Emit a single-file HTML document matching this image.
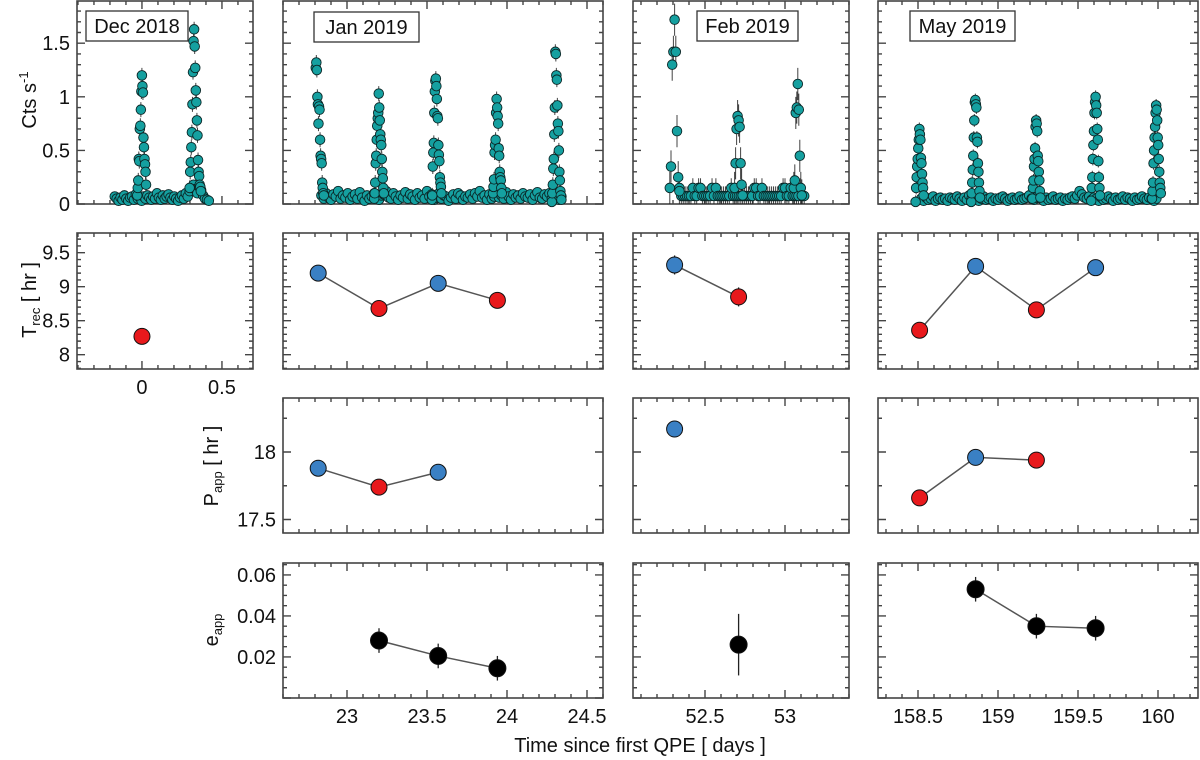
<!DOCTYPE html>
<html><head><meta charset="utf-8"><style>
html,body{margin:0;padding:0;background:#fff}
svg{display:block;font-family:"Liberation Sans",sans-serif}
</style></head><body>
<svg id="chart" width="1200" height="760" viewBox="0 0 1200 760" xmlns="http://www.w3.org/2000/svg"></svg>
<script>
// ---------- data ----------
const decBaseStart=-0.17, decBaseStep=0.012;
const decBase=[0.07,0.05,0.03,0.06,0.04,0.08,0.05,0.03,0.06,0.07,0.04,0.09,0.05,0.06,0.03,0.07,0.05,0.08,0.06,0.04,0.07,0.05,0.1,0.06,0.04,0.08,0.05,0.07,0.09,0.06,0.04,0.07,0.05,0.03,0.06,0.08,0.05,0.1,0.07,0.12,0.15,0.18,0.14,0.1,0.16,0.13,0.08,0.05,0.04,0.03];
const decFlareT=[-0.002,0.333];
const decFlareW=[0.055,0.07];
const decFlare1=[0.08,0.15,0.22,0.42,0.4,0.7,0.73,0.88,1.05,1.2,1.1,1.04,0.62,0.53,0.42,0.37,0.3,0.18];
const decFlare2=[0.15,0.3,0.39,0.53,0.67,0.93,1.23,1.52,1.63,1.47,1.27,1.06,0.95,0.78,0.64,0.41,0.3,0.26,0.18,0.16,0.12];

const janBaseStart=22.84, janBaseStep=0.015;
const janBase=[0.08,0.05,0.1,0.06,0.04,0.09,0.07,0.12,0.05,0.08,0.06,0.1,0.04,0.07,0.09,0.05,0.11,0.06,0.03,0.08,0.05,0.07,0.1,0.06,0.04,0.08,0.09,0.12,0.06,0.05,0.1,0.07,0.04,0.08,0.06,0.11,0.05,0.09,0.07,0.04,0.1,0.06,0.08,0.05,0.12,0.07,0.09,0.04,0.06,0.1,0.05,0.08,0.07,0.03,0.06,0.09,0.05,0.1,0.08,0.04,0.07,0.06,0.09,0.05,0.1,0.07,0.12,0.06,0.08,0.04,0.09,0.05,0.07,0.1,0.06,0.08,0.05,0.11,0.07,0.04,0.09,0.06,0.08,0.05,0.1,0.07,0.06,0.09,0.04,0.08,0.11,0.06,0.05,0.09,0.07,0.1,0.05,0.08,0.06,0.04,0.07];
const janFlareT=[22.83,23.2,23.56,23.94,24.31];
const janFlareW=[0.05,0.06,0.06,0.055,0.06];
const janFlare1=[1.27,1.32,1.25,1.0,0.93,0.75,0.91,0.88,0.6,0.45,0.42,0.38,0.2,0.15,0.1,0.08];
const janFlare2=[0.05,0.1,0.2,0.38,0.45,0.6,0.73,0.8,0.85,1.03,0.9,0.78,0.65,0.6,0.55,0.42,0.3,0.24,0.15,0.1];
const janFlare3=[0.04,0.08,0.35,0.48,0.57,0.85,1.05,1.15,1.17,1.1,0.98,0.82,0.8,0.55,0.46,0.4,0.25,0.2,0.16,0.1];
const janFlare4=[0.1,0.16,0.23,0.48,0.55,0.6,0.85,0.98,0.9,0.82,0.75,0.52,0.45,0.3,0.25,0.22,0.15,0.1];
const janFlare5=[0.02,0.1,0.18,0.33,0.42,0.65,0.9,1.42,1.4,1.2,1.16,0.92,0.75,0.68,0.5,0.3,0.22,0.12,0.08,0.04];

const febBaseStart=52.34, febBaseStep=0.012;
const febBase=[0.15,0.075,0.075,0.075,0.075,0.075,0.075,0.15,0.075,0.075,0.15,0.15,0.075,0.075,0.075,0.075,0.075,0.15,0.075,0.15,0.075,0.075,0.075,0.075,0.075,0.075,0.075,0.15,0.075,0.075,0.075,0.075,0.075,0.075,0.075,0.075,0.075,0.075,0.075,0.15,0.15,0.075,0.075,0.15,0.075,0.075,0.075,0.075,0.075,0.075,0.075,0.075,0.075,0.075,0.15,0.15,0.075,0.075,0.15,0.075,0.075,0.075,0.075,0.15,0.075,0.075];
const febFlareT=[52.31,52.71,53.08];
const febFlareW=[0.06,0.05,0.05];
const febFlare1=[0.15,0.35,1.3,1.42,1.72,1.42,0.68,0.25,0.12];
const febFlare2=[0.15,0.38,0.7,0.82,0.78,0.72,0.38,0.18,0.08];
const febFlare3=[0.15,0.22,0.85,0.9,1.12,0.88,0.45,0.15,0.08];

const mayBaseStart=158.52, mayBaseStep=0.015;
const mayBase=[0.05,0.03,0.06,0.04,0.05,0.07,0.03,0.05,0.06,0.04,0.05,0.03,0.06,0.05,0.04,0.07,0.05,0.03,0.06,0.04,0.08,0.05,0.04,0.06,0.03,0.05,0.07,0.04,0.05,0.06,0.03,0.05,0.04,0.06,0.07,0.05,0.03,0.05,0.06,0.04,0.05,0.07,0.04,0.05,0.06,0.08,0.05,0.04,0.06,0.1,0.05,0.03,0.06,0.04,0.05,0.07,0.04,0.05,0.06,0.03,0.05,0.04,0.06,0.07,0.05,0.08,0.12,0.09,0.06,0.05,0.07,0.04,0.06,0.05,0.03,0.06,0.04,0.05,0.07,0.05,0.03,0.06,0.04,0.05,0.07,0.04,0.06,0.05,0.03,0.06,0.04,0.05,0.07,0.05,0.04,0.06,0.05,0.03,0.05];
const mayFlareT=[158.51,158.86,159.24,159.61,159.99];
const mayFlareW=[0.05,0.055,0.05,0.055,0.055];
const mayFlare1=[0.02,0.15,0.25,0.35,0.42,0.52,0.6,0.7,0.65,0.6,0.43,0.38,0.28,0.2,0.15,0.08];
const mayFlare2=[0.02,0.1,0.2,0.32,0.45,0.62,0.78,0.95,0.97,0.93,0.9,0.62,0.58,0.38,0.3,0.2,0.12,0.06];
const mayFlare3=[0.05,0.15,0.22,0.35,0.42,0.52,0.72,0.78,0.75,0.68,0.45,0.4,0.3,0.22,0.12,0.06];
const mayFlare4=[0.03,0.15,0.25,0.42,0.55,0.68,0.85,0.95,1.0,0.92,0.85,0.7,0.6,0.4,0.25,0.15,0.08];
const mayFlare5=[0.05,0.12,0.2,0.38,0.5,0.62,0.72,0.85,0.92,0.88,0.78,0.62,0.55,0.42,0.3,0.2,0.15,0.1];

// T_rec [hr]
const trecT=[[0],[22.82,23.2,23.57,23.94],[52.31,52.71],[158.51,158.86,159.24,159.61]];
const trecV=[[8.27],[9.2,8.68,9.05,8.8],[9.32,8.85],[8.36,9.3,8.66,9.28]];
const trecE=[[0.1],[0.1,0.1,0.1,0.1],[0.14,0.14],[0.1,0.1,0.1,0.1]];
const trecC=[["r"],["b","r","b","r"],["b","r"],["r","b","r","b"]];
// P_app [hr]
const pappT=[[22.82,23.2,23.57],[52.31],[158.51,158.86,159.24]];
const pappV=[[17.88,17.74,17.85],[18.17],[17.66,17.96,17.94]];
const pappE=[[0.04,0.04,0.04],[0.05],[0.04,0.04,0.04]];
const pappC=[["b","r","b"],["b"],["r","b","r"]];
// e_app
const eappT=[[23.2,23.57,23.94],[52.71],[158.86,159.24,159.61]];
const eappV=[[0.028,0.0205,0.0145],[0.026],[0.053,0.035,0.034]];
const eappE=[[0.006,0.006,0.006],[0.015],[0.006,0.006,0.006]];

const xTickLabels1=["0","0.5"];
const xTickLabels2=["23","23.5","24","24.5"];
const xTickLabels3=["52.5","53"];
const xTickLabels4=["158.5","159","159.5","160"];

// ---------- layout ----------
const svg=document.getElementById('chart');
const NS='http://www.w3.org/2000/svg';
function mk(tag,attrs,parent){const e=document.createElementNS(NS,tag);for(const k in attrs)e.setAttribute(k,attrs[k]);(parent||svg).appendChild(e);return e;}
const cols=[{x0:77,x1:253,d0:-0.406,d1:0.694},{x0:283,x1:603,d0:22.6,d1:24.6},{x0:633,x1:849,d0:52.05,d1:53.4},{x0:878,x1:1198,d0:158.25,d1:160.25}];
const rows=[{y0:1,y1:204,d0:0,d1:1.894,maj:0.5,min:0.1},{y0:233,y1:369,d0:7.79,d1:9.79,maj:0.5,min:0.1},{y0:398,y1:533,d0:17.40,d1:18.40,maj:0.5,min:0.25},{y0:563,y1:698,d0:0,d1:0.0658,maj:0.02,min:0.005}];
const COL={r:"#e8191c",b:"#3a80c4",teal:"#15a0a0"};
function sx(c,v){return c.x0+(v-c.d0)/(c.d1-c.d0)*(c.x1-c.x0);}
function sy(r,v){return r.y1-(v-r.d0)/(r.d1-r.d0)*(r.y1-r.y0);}

function panel(ci,ri,name){
  const c=cols[ci],r=rows[ri];
  const g=mk('g',{});
  
  
  mk('rect',{x:c.x0,y:r.y0,width:c.x1-c.x0,height:r.y1-r.y0,fill:'none',stroke:'#444','stroke-width':1.6},g);
  let p='';
  const s0=Math.ceil(c.d0/0.1-1e-6),s1=Math.floor(c.d1/0.1+1e-6);
  for(let i=s0;i<=s1;i++){const x=sx(c,i*0.1);const L=(i%5===0)?8:4;p+=`M${x},${r.y1}v${-L}M${x},${r.y0}v${L}`;}
  const t0=Math.ceil(r.d0/r.min-1e-6),t1=Math.floor(r.d1/r.min+1e-6);
  const ratio=Math.round(r.maj/r.min);
  for(let i=t0;i<=t1;i++){const y=sy(r,i*r.min);const L=(i%ratio===0)?8:4;p+=`M${c.x0},${y}h${L}M${c.x1},${y}h${-L}`;}
  mk('path',{d:p,stroke:'#444','stroke-width':1.4,fill:'none'},g);
  return g;
}
function ylabels(ci,ri,vals){const c=cols[ci],r=rows[ri];
  vals.forEach(v=>{const t=mk('text',{x:c.x0-7,y:sy(r,v)+7,'text-anchor':'end','font-size':20,fill:'#111'});t.textContent=(ri===3?v.toFixed(2):String(v));
    });}
function xlabels(ci,ri,labels){const c=cols[ci],r=rows[ri];
  labels.forEach(l=>{const t=mk('text',{x:sx(c,parseFloat(l)),y:r.y1+25,'text-anchor':'middle','font-size':20,fill:'#111'});t.textContent=l;
    });}
function legendBox(x,y,w,label){const b=mk('rect',{x:x,y:y,width:w,height:30,fill:'#fff',stroke:'#333','stroke-width':1.3});
  
  const t=mk('text',{x:x+w/2,y:y+22,'text-anchor':'middle','font-size':20,fill:'#111'});t.textContent=label;
  }

// light curve
function lightcurve(ci,base0,step,base,flT,flW,flares,err,name){
  const c=cols[ci],r=rows[0];const g=mk('g',{});
  
  const pts=[];
  base.forEach((v,i)=>pts.push([base0+i*step,v,err*0.6]));
  flares.forEach((f,k)=>{const n=f.length;f.forEach((v,i)=>pts.push([flT[k]-flW[k]/2+flW[k]*i/(n-1),v,err]));});
  let p='';
  pts.forEach(q=>{const x=sx(c,q[0]);p+=`M${x},${sy(r,q[1]+q[2])}V${Math.min(r.y1,sy(r,q[1]-q[2]))}`;});
  mk('path',{d:p,stroke:'#222','stroke-width':1,fill:'none',opacity:0.85},g);
  pts.forEach(q=>{const e=mk('circle',{cx:sx(c,q[0]),cy:sy(r,q[1]),r:4.8,fill:COL.teal,stroke:'#0b2626','stroke-width':0.9},g);
    });
}
function series(ci,ri,T,V,E,C,name,rad){
  const c=cols[ci],r=rows[ri];const g=mk('g',{});
  
  if(T.length>1){mk('polyline',{points:T.map((t,i)=>sx(c,t)+','+sy(r,V[i])).join(' '),fill:'none',stroke:'#555','stroke-width':1.5},g);}
  T.forEach((t,i)=>{const x=sx(c,t);mk('line',{x1:x,x2:x,y1:sy(r,V[i]+E[i]),y2:sy(r,V[i]-E[i]),stroke:'#222','stroke-width':1.3},g);});
  T.forEach((t,i)=>{const e=mk('circle',{cx:sx(c,t),cy:sy(r,V[i]),r:rad,fill:C?COL[C[i]]:'#000',stroke:'#111','stroke-width':1},g);
    });
}

// Row 1
panel(0,0,'dec-2018-lightcurve-panel');panel(1,0,'jan-2019-lightcurve-panel');panel(2,0,'feb-2019-lightcurve-panel');panel(3,0,'may-2019-lightcurve-panel');
lightcurve(0,decBaseStart,decBaseStep,decBase,decFlareT,decFlareW,[decFlare1,decFlare2],0.07,'dec-2018-counts');
lightcurve(1,janBaseStart,janBaseStep,janBase,janFlareT,janFlareW,[janFlare1,janFlare2,janFlare3,janFlare4,janFlare5],0.07,'jan-2019-counts');
lightcurve(2,febBaseStart,febBaseStep,febBase,febFlareT,febFlareW,[febFlare1,febFlare2,febFlare3],0.15,'feb-2019-counts');
lightcurve(3,mayBaseStart,mayBaseStep,mayBase,mayFlareT,mayFlareW,[mayFlare1,mayFlare2,mayFlare3,mayFlare4,mayFlare5],0.06,'may-2019-counts');
ylabels(0,0,[0,0.5,1,1.5]);
legendBox(86,11,102,'Dec 2018');legendBox(314,12,105,'Jan 2019');legendBox(697,11,101,'Feb 2019');legendBox(910,11,105,'May 2019');

// Row 2
for(let i=0;i<4;i++){panel(i,1,'trec-panel-'+(i+1));series(i,1,trecT[i],trecV[i],trecE[i],trecC[i],'trec-series-'+(i+1),8);}
ylabels(0,1,[8,8.5,9,9.5]);xlabels(0,1,xTickLabels1);
// Row 3
for(let i=0;i<3;i++){panel(i+1,2,'papp-panel-'+(i+1));series(i+1,2,pappT[i],pappV[i],pappE[i],pappC[i],'papp-series-'+(i+1),8);}
ylabels(1,2,[17.5,18]);
// Row 4
for(let i=0;i<3;i++){panel(i+1,3,'eapp-panel-'+(i+1));series(i+1,3,eappT[i],eappV[i],eappE[i],null,'eapp-series-'+(i+1),8.5);}
ylabels(1,3,[0.02,0.04,0.06]);
xlabels(1,3,xTickLabels2);xlabels(2,3,xTickLabels3);xlabels(3,3,xTickLabels4);

// axis titles
function ytitle(x,y,main,sub,sup,rest,name){
  const t=mk('text',{x:0,y:0,'font-size':20,fill:'#111','text-anchor':'middle',transform:`translate(${x},${y}) rotate(-90)`});
  
  let s=mk('tspan',{},t);s.textContent=main;
  if(sub){s=mk('tspan',{'font-size':13,dy:4},t);s.textContent=sub;s=mk('tspan',{dy:-4},t);s.textContent=rest;}
  if(sup){s=mk('tspan',{'font-size':13,dy:-8},t);s.textContent=sup;}
}
ytitle(36,100,'Cts s',null,'-1',null,'y-axis-title-counts');
ytitle(36,300,'T','rec',null,' [ hr ]','y-axis-title-trec');
ytitle(218,466,'P','app',null,' [ hr ]','y-axis-title-papp');
ytitle(218,630,'e','app',null,'','y-axis-title-eapp');
const xt=mk('text',{x:640,y:752,'text-anchor':'middle','font-size':20,fill:'#111'});
xt.textContent='Time since first QPE [ days ]';

</script>
</body></html>
